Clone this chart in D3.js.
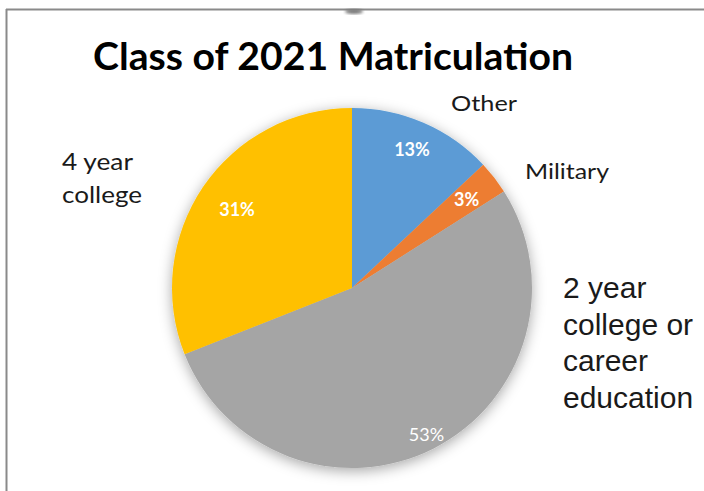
<!DOCTYPE html>
<html>
<head>
<meta charset="utf-8">
<script src="https://cdn.jsdelivr.net/npm/d3@7"></script>
<style>
  html, body { margin: 0; padding: 0; background: #fff; }
  svg { display: block; }
</style>
</head>
<body>
<svg id="chart" width="704" height="491"></svg>
<script>
// ---- data ----
const categories = ["Other", "Military", "2 year college or career education", "4 year college"];
const values = [13, 3, 53, 31];
const percentLabels = ["13%", "3%", "53%", "31%"];
const colors = ["#5b9bd5", "#ed7d31", "#a5a5a5", "#ffc000"];
const titleText = "Class of 2021 Matriculation";

// ---- layout ----
const W = 704, H = 491;
const cx = 352, cy = 288, R = 180;
const pctRadius = [151, 145, 164, 139];
const pctWeight = [700, 700, 400, 700];

const svg = d3.select("#chart");
const defs = svg.append("defs");
const f = defs.append("filter").attr("id", "shadow")
  .attr("x", "-20%").attr("y", "-20%").attr("width", "140%").attr("height", "140%");
f.append("feDropShadow").attr("dx", 0).attr("dy", 3).attr("stdDeviation", 7)
  .attr("flood-color", "#000").attr("flood-opacity", 0.35);
const fb = defs.append("filter").attr("id", "blur");
fb.append("feGaussianBlur").attr("stdDeviation", 1.5);

svg.append("rect").attr("width", W).attr("height", H).attr("fill", "#fff");

// frame
svg.append("line").attr("x1", 6.5).attr("x2", 6.5).attr("y1", 9).attr("y2", H)
  .attr("stroke", "#8a8a8a").attr("stroke-width", 2);
svg.append("line").attr("x1", 6).attr("x2", W).attr("y1", 9.5).attr("y2", 9.5)
  .attr("stroke", "#8a8a8a").attr("stroke-width", 2);
svg.append("ellipse").attr("cx", 354).attr("cy", 11.5).attr("rx", 9).attr("ry", 2.5)
  .attr("fill", "#777").attr("filter", "url(#blur)");

// pie
const pie = d3.pie().sort(null).value(d => d.value);
const arcs = pie(values.map((v, i) => ({ value: v, i })));
const arc = d3.arc().innerRadius(0).outerRadius(R);

const g = svg.append("g").attr("transform", `translate(${cx},${cy})`);
g.append("g").attr("filter", "url(#shadow)")
  .selectAll("path").data(arcs).join("path")
  .attr("d", arc)
  .attr("fill", d => colors[d.data.i]);

// percent labels
g.selectAll("text.pct").data(arcs).join("text")
  .attr("class", "pct")
  .attr("transform", d => {
    const a = d3.arc().innerRadius(pctRadius[d.data.i]).outerRadius(pctRadius[d.data.i]);
    const [x, y] = a.centroid(d);
    return `translate(${x},${y})`;
  })
  .attr("text-anchor", "middle")
  .attr("dy", "0.36em")
  .attr("font-family", "Lato, 'Open Sans', sans-serif")
  .attr("font-size", 18)
  .attr("font-weight", d => pctWeight[d.data.i])
  .attr("fill", "#fff")
  .text(d => percentLabels[d.data.i]);

// category labels
const calibri = "Lato, 'Open Sans', sans-serif";
function label(txt, x, y, size, width, family, weight) {
  const t = svg.append("text")
    .attr("x", x).attr("y", y)
    .attr("font-family", family).attr("font-size", size)
    .attr("font-weight", weight || 400)
    .attr("fill", "#1a1a1a")
    .text(txt);
  if (width) t.attr("textLength", width).attr("lengthAdjust", "spacingAndGlyphs");
  return t;
}

label(titleText, 93, 70, 38, 480, calibri, 700).attr("fill", "#000");
label(categories[0], 451, 111, 22, 66, calibri);
label(categories[1], 525, 179, 21, 84, calibri);
const left = categories[3].split(" ");
label(left[0] + " " + left[1], 62, 170, 24, 71, calibri);
label(left[2], 62, 203, 24, 80, calibri);

const rightLines = ["2 year", "college or", "career", "education"];
rightLines.forEach((s, k) => {
  label(s, 563, 298 + k * 36.7, 30, null, "'Liberation Sans', Arial, sans-serif");
});
</script>
</body>
</html>
